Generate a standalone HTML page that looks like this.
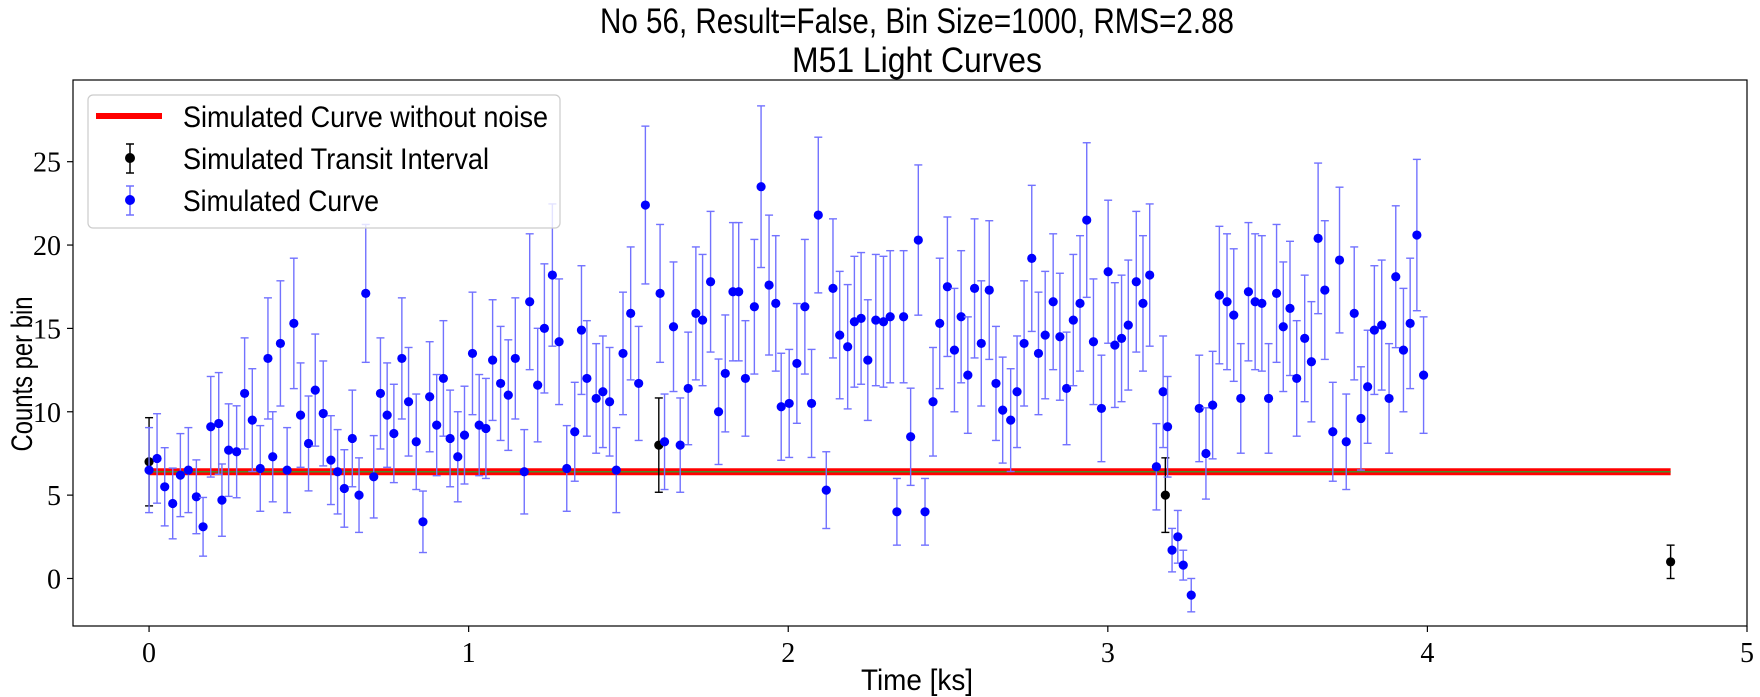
<!DOCTYPE html>
<html><head><meta charset="utf-8"><style>
html,body{margin:0;padding:0;background:#fff}
svg{display:block;font-family:"Liberation Sans",sans-serif}
</style></head><body>
<svg id="chart" width="1760" height="697" viewBox="0 0 1760 697" xmlns="http://www.w3.org/2000/svg">
<text x="917" y="33" text-anchor="middle" font-size="35" textLength="634" lengthAdjust="spacingAndGlyphs">No 56, Result=False, Bin Size=1000, RMS=2.88</text>
<text x="917" y="72" text-anchor="middle" font-size="35" textLength="250" lengthAdjust="spacingAndGlyphs">M51 Light Curves</text>
<g id="plot"></g>
<text transform="translate(32,374) rotate(-90)" text-anchor="middle" font-size="30" textLength="155" lengthAdjust="spacingAndGlyphs">Counts per bin</text>
<text x="917" y="690" text-anchor="middle" font-size="30" textLength="112" lengthAdjust="spacingAndGlyphs">Time [ks]</text>
<g>
<rect x="88" y="95" width="472" height="133" rx="5" fill="#fff" fill-opacity="0.8" stroke="#ccc" stroke-width="1.2"/>
<line x1="96" y1="116" x2="162" y2="116" stroke="#f00" stroke-width="6"/>
<text x="183" y="127" font-size="30" textLength="365" lengthAdjust="spacingAndGlyphs">Simulated Curve without noise</text>
<line x1="130" y1="144" x2="130" y2="173" stroke="#000" stroke-width="1.5"/>
<line x1="126" y1="144" x2="134" y2="144" stroke="#000" stroke-width="1.5"/>
<line x1="126" y1="173" x2="134" y2="173" stroke="#000" stroke-width="1.5"/>
<circle cx="130" cy="158" r="5" fill="#000"/>
<text x="183" y="169" font-size="30" textLength="306" lengthAdjust="spacingAndGlyphs">Simulated Transit Interval</text>
<line x1="130" y1="186" x2="130" y2="215" stroke="#7070ff" stroke-width="1.5"/>
<line x1="126" y1="186" x2="134" y2="186" stroke="#7070ff" stroke-width="1.5"/>
<line x1="126" y1="215" x2="134" y2="215" stroke="#7070ff" stroke-width="1.5"/>
<circle cx="130" cy="200" r="5" fill="#00f"/>
<text x="183" y="211" font-size="30" textLength="196" lengthAdjust="spacingAndGlyphs">Simulated Curve</text>
</g>
</svg>
<script>
const xTicks=[0,1,2,3,4,5];
const yTicks=[0,5,10,15,20,25];
const modelLevel=6.4;
const modelStart=0, modelEnd=4.761;
const transitTimes=[0,1.595,3.180,4.761];
const transitCounts=[7.0,8.0,5.0,1.0];
const curveTimes=[0,0.025,0.049,0.074,0.098,0.123,0.148,0.169,0.193,0.218,0.228,0.249,0.274,0.299,0.323,0.348,0.372,0.387,0.411,0.432,0.453,0.474,0.499,0.520,0.545,0.569,0.590,0.611,0.636,0.657,0.678,0.703,0.724,0.745,0.766,0.791,0.812,0.836,0.857,0.878,0.900,0.921,0.942,0.966,0.987,1.012,1.033,1.054,1.075,1.100,1.124,1.146,1.174,1.191,1.216,1.237,1.262,1.283,1.307,1.332,1.353,1.370,1.399,1.420,1.441,1.462,1.483,1.507,1.532,1.553,1.599,1.613,1.641,1.662,1.687,1.711,1.732,1.757,1.782,1.803,1.827,1.845,1.866,1.894,1.915,1.940,1.961,1.978,2.003,2.027,2.052,2.073,2.094,2.119,2.140,2.161,2.186,2.207,2.228,2.249,2.274,2.298,2.319,2.340,2.361,2.383,2.407,2.428,2.453,2.474,2.498,2.520,2.541,2.562,2.583,2.604,2.629,2.650,2.671,2.696,2.716,2.738,2.762,2.783,2.804,2.829,2.850,2.871,2.892,2.913,2.934,2.955,2.980,3.001,3.022,3.043,3.064,3.089,3.110,3.131,3.152,3.173,3.187,3.201,3.219,3.236,3.261,3.286,3.307,3.328,3.349,3.373,3.394,3.416,3.440,3.461,3.482,3.503,3.528,3.549,3.570,3.591,3.616,3.637,3.658,3.679,3.704,3.725,3.746,3.771,3.792,3.813,3.834,3.857,3.880,3.901,3.925,3.946,3.967,3.988];
const curveCounts=[6.5,7.2,5.5,4.5,6.2,6.5,4.9,3.1,9.1,9.3,4.7,7.7,7.6,11.1,9.5,6.6,13.2,7.3,14.1,6.5,15.3,9.8,8.1,11.3,9.9,7.1,6.4,5.4,8.4,5.0,17.1,6.1,11.1,9.8,8.7,13.2,10.6,8.2,3.4,10.9,9.2,12.0,8.4,7.3,8.6,13.5,9.2,9.0,13.1,11.7,11.0,13.2,6.4,16.6,11.6,15.0,18.2,14.2,6.6,8.8,14.9,12.0,10.8,11.2,10.6,6.5,13.5,15.9,11.7,22.4,17.1,8.2,15.1,8.0,11.4,15.9,15.5,17.8,10.0,12.3,17.2,17.2,12.0,16.3,23.5,17.6,16.5,10.3,10.5,12.9,16.3,10.5,21.8,5.3,17.4,14.6,13.9,15.4,15.6,13.1,15.5,15.4,15.7,4.0,15.7,8.5,20.3,4.0,10.6,15.3,17.5,13.7,15.7,12.2,17.4,14.1,17.3,11.7,10.1,9.5,11.2,14.1,19.2,13.5,14.6,16.6,14.5,11.4,15.5,16.5,21.5,14.2,10.2,18.4,14.0,14.4,15.2,17.8,16.5,18.2,6.7,11.2,9.1,1.7,2.5,0.8,-1.0,10.2,7.5,10.4,17.0,16.6,15.8,10.8,17.2,16.6,16.5,10.8,17.1,15.1,16.2,12.0,14.4,13.0,20.4,17.3,8.8,19.1,8.2,15.9,9.6,11.5,14.9,15.2,10.8,18.1,13.7,15.3,20.6,12.2];

const NS='http://www.w3.org/2000/svg';
const L=73,R=1747,T=80,B=626;
const xMin=-0.238,xMax=5.0,yMin=-2.85,yMax=29.9;
function sx(v){return L+(v-xMin)/(xMax-xMin)*(R-L);}
function sy(v){return B-(v-yMin)/(yMax-yMin)*(B-T);}
function err(v){return Math.max(Math.sqrt(Math.abs(v)),0.3);}
const plot=document.getElementById('plot');
function mk(tag,attrs){const e=document.createElementNS(NS,tag);for(const k in attrs)e.setAttribute(k,attrs[k]);plot.appendChild(e);return e;}

xTicks.forEach((t,i)=>{
  const tk=mk('line',{x1:sx(t),x2:sx(t),y1:B,y2:B+6,stroke:'#000','stroke-width':1.2});
  
  
  const lb=mk('text',{x:sx(t),y:B+36,'text-anchor':'middle','font-size':28,'font-family':'Liberation Serif, serif'});
  lb.textContent=t;
  
  
});
yTicks.forEach((t,i)=>{
  const tk=mk('line',{x1:L-6,x2:L,y1:sy(t),y2:sy(t),stroke:'#000','stroke-width':1.2});
  
  
  const lb=mk('text',{x:L-12,y:sy(t)+10,'text-anchor':'end','font-size':28,'font-family':'Liberation Serif, serif'});
  lb.textContent=t;
  
  
});

const ml=mk('line',{x1:sx(modelStart),x2:sx(modelEnd),y1:sy(modelLevel),y2:sy(modelLevel),stroke:'#f00','stroke-width':7});


const ml2=mk('line',{x1:sx(modelStart),x2:sx(modelEnd),y1:sy(modelLevel),y2:sy(modelLevel),stroke:'#4a8a2a','stroke-width':1.5});



function drawPoint(t,v,bar,dot,name){
  const e=err(v),x=sx(t),y1=sy(v+e),y2=sy(v-e);
  const g=document.createElementNS(NS,'g');
  
  
  plot.appendChild(g);
  const add=(tag,a)=>{const el=document.createElementNS(NS,tag);for(const k in a)el.setAttribute(k,a[k]);g.appendChild(el);};
  add('line',{x1:x,x2:x,y1:y1,y2:y2,stroke:bar,'stroke-width':1.4});
  add('line',{x1:x-4,x2:x+4,y1:y1,y2:y1,stroke:bar,'stroke-width':1.4});
  add('line',{x1:x-4,x2:x+4,y1:y2,y2:y2,stroke:bar,'stroke-width':1.4});
  add('circle',{cx:x,cy:sy(v),r:4.6,fill:dot});
}
transitTimes.forEach((t,i)=>drawPoint(t,transitCounts[i],'#000','#000','transit-point'));
curveTimes.forEach((t,i)=>drawPoint(t,curveCounts[i],'#7272ff','#0000ff','curve-point'));

const fr=mk('rect',{x:L,y:T,width:R-L,height:B-T,fill:'none',stroke:'#000','stroke-width':1.2});


</script>
</body></html>
